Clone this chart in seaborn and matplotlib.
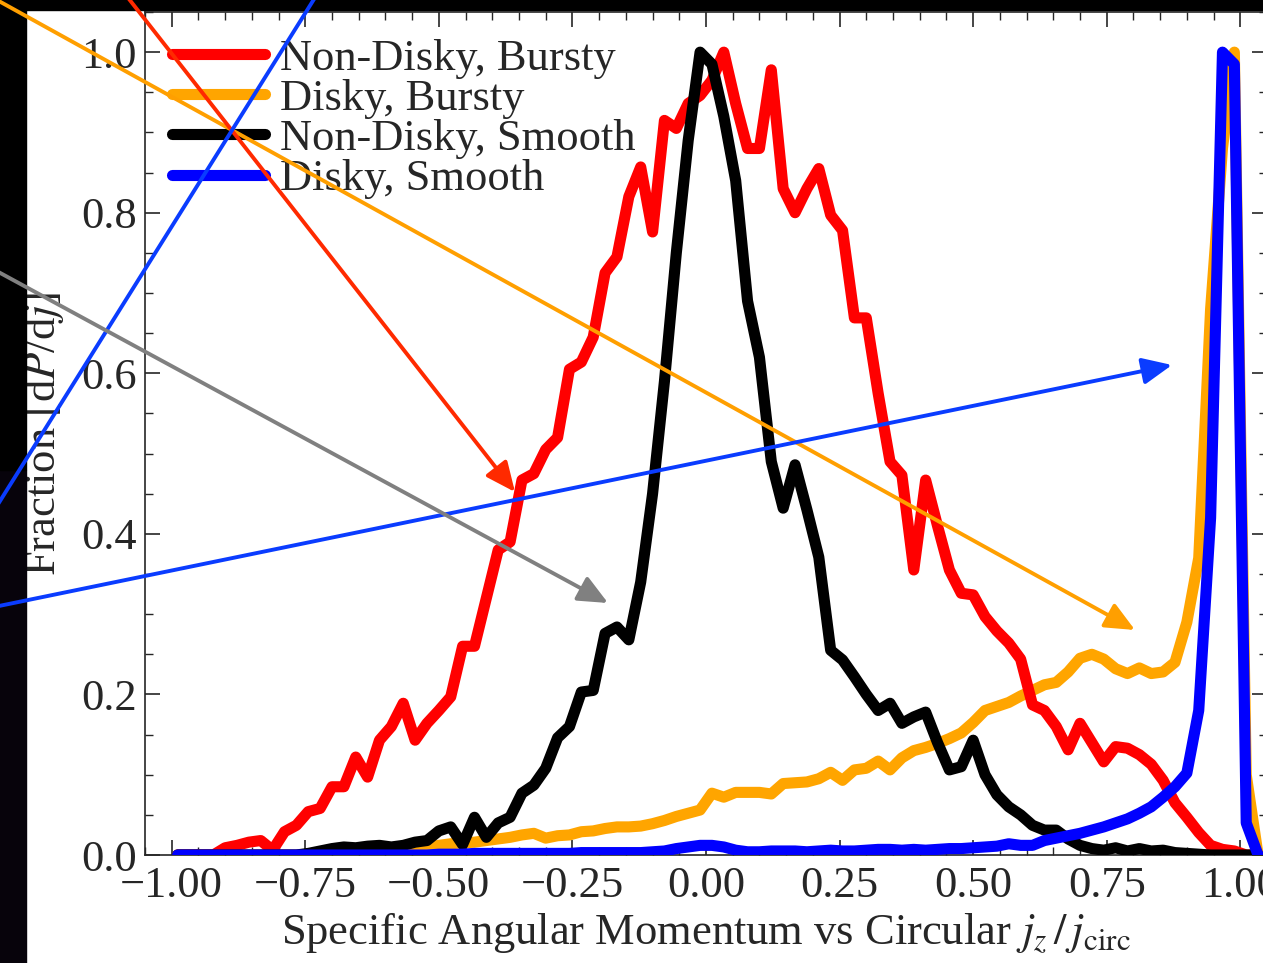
import numpy as np
import pandas as pd
import matplotlib
matplotlib.use("Agg")
import matplotlib.pyplot as plt
import seaborn as sns
from matplotlib.patches import Rectangle, FancyArrowPatch
from matplotlib.ticker import MultipleLocator, FixedLocator, FixedFormatter

# histogram bin centres (90 bins over [-1, 1] plus two overflow bins)
jz = np.linspace(-1 + 1 / 90, 1 + 3 / 90, 92)

nondisky_bursty = [
    0, 0, 0, 0, 0.009, 0.012, 0.016, 0.018, 0.006, 0.029,
    0.037, 0.054, 0.058, 0.085, 0.085, 0.122, 0.097, 0.143, 0.160, 0.189,
    0.143, 0.164, 0.180, 0.197, 0.260, 0.260, 0.320, 0.380, 0.390, 0.467,
    0.475, 0.505, 0.520, 0.605, 0.614, 0.645, 0.725, 0.745, 0.820, 0.857,
    0.776, 0.915, 0.905, 0.936, 0.946, 0.965, 1.000, 0.936, 0.880, 0.880,
    0.978, 0.830, 0.800, 0.830, 0.855, 0.797, 0.778, 0.669, 0.669, 0.575,
    0.490, 0.473, 0.355, 0.467, 0.410, 0.355, 0.326, 0.324, 0.297, 0.279,
    0.264, 0.244, 0.187, 0.180, 0.160, 0.131, 0.164, 0.140, 0.116, 0.135,
    0.133, 0.125, 0.113, 0.093, 0.065, 0.047, 0.028, 0.012, 0.007, 0.005,
    0, 0,
]
disky_bursty = [
    0, 0, 0, 0, 0, 0, 0, 0, 0, 0,
    0, 0, 0, 0, 0, 0, 0.001, 0.002, 0.003, 0.005,
    0.008, 0.010, 0.012, 0.014, 0.015, 0.016, 0.018, 0.020, 0.022, 0.025,
    0.027, 0.021, 0.024, 0.025, 0.029, 0.030, 0.033, 0.035, 0.035, 0.036,
    0.039, 0.043, 0.048, 0.052, 0.056, 0.077, 0.072, 0.078, 0.078, 0.078,
    0.076, 0.089, 0.090, 0.091, 0.095, 0.103, 0.093, 0.106, 0.108, 0.117,
    0.106, 0.121, 0.130, 0.134, 0.139, 0.145, 0.152, 0.165, 0.180, 0.185,
    0.190, 0.198, 0.205, 0.212, 0.215, 0.228, 0.245, 0.250, 0.244, 0.232,
    0.226, 0.233, 0.226, 0.228, 0.240, 0.290, 0.370, 0.680, 0.880, 1.000,
    0.100, 0,
]
nondisky_smooth = [
    0, 0, 0, 0, 0, 0, 0, 0, 0, 0,
    0, 0.002, 0.005, 0.008, 0.010, 0.009, 0.011, 0.012, 0.010, 0.012,
    0.016, 0.018, 0.030, 0.035, 0.013, 0.047, 0.022, 0.040, 0.047, 0.077,
    0.087, 0.108, 0.146, 0.160, 0.203, 0.205, 0.276, 0.284, 0.268, 0.340,
    0.450, 0.590, 0.750, 0.890, 1.000, 0.985, 0.920, 0.840, 0.690, 0.620,
    0.490, 0.432, 0.486, 0.430, 0.371, 0.255, 0.243, 0.222, 0.200, 0.180,
    0.189, 0.164, 0.172, 0.178, 0.140, 0.106, 0.110, 0.143, 0.100, 0.075,
    0.060, 0.050, 0.037, 0.031, 0.031, 0.020, 0.012, 0.008, 0.006, 0.009,
    0.005, 0.008, 0.005, 0.006, 0.003, 0.002, 0.001, 0, 0, 0,
    0, 0,
]
disky_smooth = [
    0, 0, 0, 0, 0, 0, 0, 0, 0, 0,
    0, 0, 0, 0, 0, 0, 0, 0, 0, 0,
    0, 0, 0.001, 0.001, 0.001, 0.002, 0.002, 0.002, 0.002, 0.002,
    0.002, 0.002, 0.002, 0.002, 0.003, 0.003, 0.003, 0.003, 0.003, 0.003,
    0.004, 0.005, 0.008, 0.010, 0.012, 0.012, 0.010, 0.006, 0.004, 0.004,
    0.005, 0.005, 0.005, 0.004, 0.005, 0.006, 0.005, 0.005, 0.006, 0.007,
    0.007, 0.006, 0.007, 0.006, 0.007, 0.008, 0.008, 0.009, 0.010, 0.011,
    0.014, 0.012, 0.012, 0.018, 0.021, 0.024, 0.027, 0.031, 0.035, 0.040,
    0.045, 0.052, 0.060, 0.072, 0.085, 0.102, 0.180, 0.420, 1.000, 0.985,
    0.040, 0,
]

labels = ["Non-Disky, Bursty", "Disky, Bursty", "Non-Disky, Smooth", "Disky, Smooth"]
colors = ["#ff0000", "#ffa500", "#000000", "#0000ff"]
layers = [3, 2, 4, 5]

x_ticks = [-1.0, -0.75, -0.5, -0.25, 0.0, 0.25, 0.5, 0.75, 1.0]
x_ticklabels = ["\u22121.00", "\u22120.75", "\u22120.50", "\u22120.25",
                "0.00", "0.25", "0.50", "0.75", "1.00"]
y_ticks = [0.0, 0.2, 0.4, 0.6, 0.8, 1.0]
y_ticklabels = ["0.0", "0.2", "0.4", "0.6", "0.8", "1.0"]

df = pd.DataFrame({
    "jz": np.tile(jz, 4),
    "frac": nondisky_bursty + disky_bursty + nondisky_smooth + disky_smooth,
    "sample": np.repeat(labels, len(jz)),
})

sns.set_style("ticks")
plt.rcParams["font.family"] = ["Liberation Serif", "DejaVu Serif"]
plt.rcParams["mathtext.fontset"] = "stix"
fs = 32

W, H = 1263, 963
fig = plt.figure(figsize=(W / 100, H / 100), dpi=100)
ax = fig.add_axes([145 / W, 1 - 855 / H, (1267 - 145) / W, (855 - 12) / H])

for lab, col, z in zip(labels, colors, layers):
    sub = df[df["sample"] == lab]
    sns.lineplot(data=sub, x="jz", y="frac", color=col, lw=8, sort=False,
                 label=lab, zorder=z, ax=ax, legend=False)

ax.set_xlim(-1.05, 1.05)
ax.set_ylim(0, 1.05)
ax.xaxis.set_major_locator(FixedLocator(x_ticks))
ax.xaxis.set_major_formatter(FixedFormatter(x_ticklabels))
ax.yaxis.set_major_locator(FixedLocator(y_ticks))
ax.yaxis.set_major_formatter(FixedFormatter(y_ticklabels))
ax.xaxis.set_minor_locator(MultipleLocator(0.05))
ax.yaxis.set_minor_locator(MultipleLocator(0.05))
ax.tick_params(which="both", direction="in", top=True, right=True, labelsize=fs)
ax.tick_params(which="major", length=11, width=1.2)
ax.tick_params(which="minor", length=6, width=1.0)
ax.tick_params(axis="x", pad=8)
ax.tick_params(axis="y", pad=6)
for sp in ax.spines.values():
    sp.set_linewidth(1.2)

ax.set_xlabel(r"Specific Angular Momentum vs Circular $j_z\,/\,j_{\rm circ}$", fontsize=fs)
ax.set_ylabel(r"Fraction [d$P$/d$j$]", fontsize=fs)
ax.xaxis.set_label_coords(0.5, -0.066)
ax.yaxis.set_label_coords(-0.07, 0.5)

handles = ax.get_lines()[:4]
ax.legend(handles, labels, loc="upper left", frameon=False, fontsize=fs,
          handlelength=2.1, handletextpad=0.34, labelspacing=0.0,
          borderpad=0.15, borderaxespad=0.45)

# slide background around the figure
fig.add_artist(Rectangle((0, 0), 26 / W, 1 - 470 / H, transform=fig.transFigure,
                         color="#07030b", zorder=6))
fig.add_artist(Rectangle((0, 1 - 470 / H), 26 / W, 470 / H, transform=fig.transFigure,
                         color="black", zorder=6))
fig.add_artist(Rectangle((0, 1 - 10 / H), 1, 10 / H, transform=fig.transFigure,
                         color="black", zorder=6))


def fp(x, y):
    return (x / W, 1 - y / H)


# annotation arrows from the slide
arrows = [
    ((-50, -26), (1135, 630), "#ff9f00", True),
    ((118, -15), (515, 492), "#ff2a00", True),
    ((-20, 533), (326, -20), "#0a3cff", False),
    ((-40, 614), (1172, 365), "#0a3cff", True),
    ((-20, 262), (608, 603), "#808080", True),
]
for p0, p1, col, head in arrows:
    style = "-|>,head_length=1.0,head_width=0.45" if head else "-"
    arr = FancyArrowPatch(fp(*p0), fp(*p1), transform=fig.transFigure,
                          arrowstyle=style, mutation_scale=18, lw=2.8,
                          color=col, shrinkA=0, shrinkB=0, zorder=10)
    fig.add_artist(arr)

fig.savefig("out.png", dpi=100)
